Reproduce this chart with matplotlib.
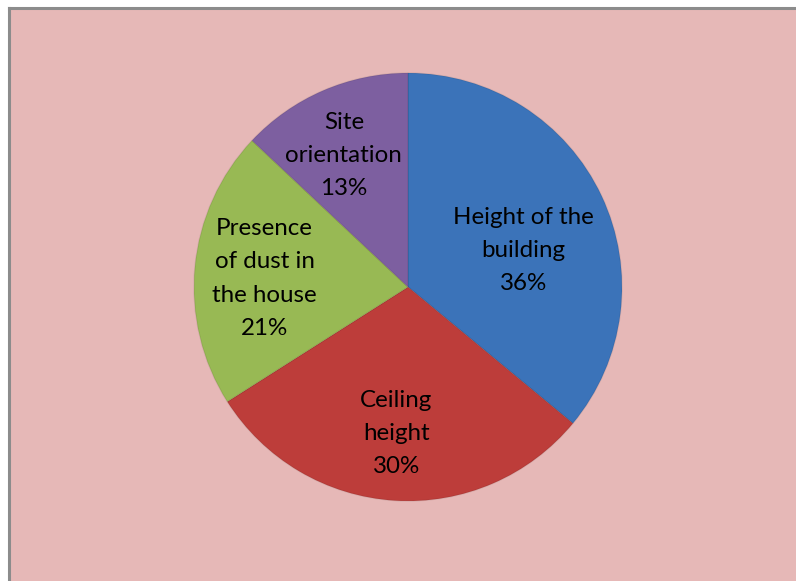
import matplotlib
matplotlib.use("Agg")
import matplotlib.pyplot as plt
from matplotlib.patches import Rectangle
from matplotlib.lines import Line2D

# --- data ---
labels = ["Height of the\nbuilding", "Ceiling\nheight", "Presence\nof dust in\nthe house", "Site\norientation"]
shares = [36, 30, 21, 13]
colors = ["#3b73b9", "#bd3d3a", "#98b954", "#7d5fa0"]

W, H = 796, 581
fig = plt.figure(figsize=(W / 100, H / 100), dpi=100)
fig.patch.set_facecolor("white")

# chart area, gray frame only on top and left (picture is cropped right/bottom)
fig.patches.append(Rectangle((9 / W, 0), 1.0, 1 - 8 / H, transform=fig.transFigure,
                             facecolor="#e6b8b7", edgecolor="none", zorder=-5))
fig.lines.append(Line2D([9 / W, 1], [1 - 8 / H, 1 - 8 / H], transform=fig.transFigure,
                        color="#8c8c8c", linewidth=2.2, zorder=-4))
fig.lines.append(Line2D([9 / W, 9 / W], [0, 1 - 8 / H], transform=fig.transFigure,
                        color="#8c8c8c", linewidth=2.2, zorder=-4))

# pie centred at ~(408, 287) px, radius ~214 px
cx, cy, r = 408, 287, 214
ax = fig.add_axes([(cx - r) / W, (H - cy - r) / H, 2 * r / W, 2 * r / H])
ax.set_facecolor("none")
ax.set_zorder(2)

wedges, _ = ax.pie(shares, colors=colors, startangle=90, counterclock=False,
                   radius=1.0, wedgeprops=dict(linewidth=0))

for w in wedges:
    w.set_edgecolor((0, 0, 0, 0.08))
    w.set_linewidth(1.0)

# label spots (fraction of radius, relative to the centre)
spots = [(0.54, 0.17), (-0.055, -0.685), (-0.67, 0.04), (-0.30, 0.615)]
for lab, val, (x, y) in zip(labels, shares, spots):
    ax.text(x, y, f"{lab}\n{val}%", ha="center", va="center", fontsize=17.4,
            family="Lato", color="black", linespacing=1.72)

ax.set_xlim(-1, 1)
ax.set_ylim(-1, 1)
ax.set_aspect("equal")
ax.axis("off")

fig.savefig("out.png", dpi=100)
